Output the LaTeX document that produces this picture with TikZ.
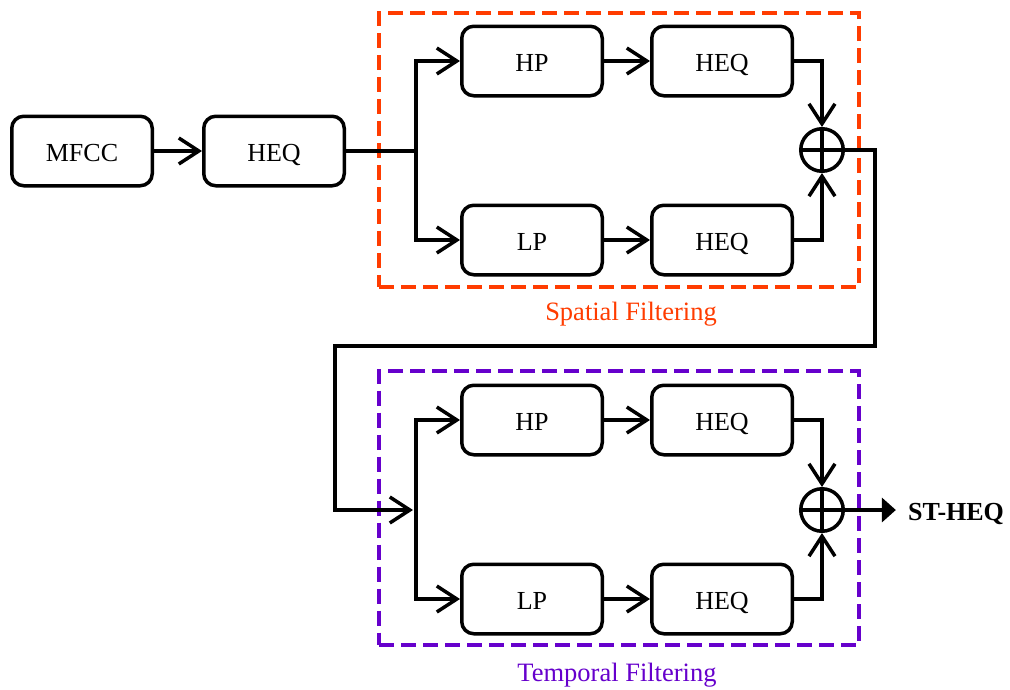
\documentclass[tikz,border=0pt]{standalone}
\usepackage{fontspec}
\setmainfont{Liberation Serif}
\usetikzlibrary{arrows.meta}
\definecolor{spred}{RGB}{255,60,0}
\definecolor{tppur}{RGB}{102,0,204}
\begin{document}
\begin{tikzpicture}[x=1pt,y=-1pt,
  blk/.style={draw,line width=3.5pt,rounded corners=12pt,minimum width=140.5pt,minimum height=69.5pt,inner sep=0pt,text height=21pt,text depth=0pt,font=\fontsize{26}{28}\selectfont},
  sumc/.style={draw,circle,line width=3.5pt,minimum size=42.5pt,inner sep=0pt},
  ln/.style={line width=3.5pt},
  arr/.style={line width=3.5pt,-{Straight Barb[length=20pt,width=26pt]}},
  farr/.style={line width=3.5pt,-{Triangle[length=14pt,width=24pt]}},
  grp/.style={line width=4pt,dash pattern=on 15pt off 7pt,minimum width=480pt,minimum height=274pt,inner sep=0pt},
  lbl/.style={font=\fontsize{26.5}{28}\selectfont}
]
\useasboundingbox (0,0) rectangle (1010,689);
% group frames
\node[grp,draw=spred] (sf) at (619,150) {};
\node[grp,draw=tppur] (tf) at (619,507.5) {};
\node[lbl,text=spred] (sfl) at (631,314) {Spatial Filtering};
\node[lbl,text=tppur] (tfl) at (617,675) {Temporal Filtering};
% blocks
\node[blk] (mfcc) at (82,151) {MFCC};
\node[blk] (heq0) at (274,151) {HEQ};
\node[blk] (shp) at (532,61) {HP};
\node[blk] (sheq1) at (722,61) {HEQ};
\node[blk] (slp) at (532,240) {LP};
\node[blk] (sheq2) at (722,240) {HEQ};
\node[sumc] (ssum) at (822,150) {};
\draw[ln] (ssum.north) -- (ssum.south) (ssum.west) -- (ssum.east);
\node[blk] (thp) at (532,420) {HP};
\node[blk] (theq1) at (722,420) {HEQ};
\node[blk] (tlp) at (532,599) {LP};
\node[blk] (theq2) at (722,599) {HEQ};
\node[sumc] (tsum) at (822,510) {};
\draw[ln] (tsum.north) -- (tsum.south) (tsum.west) -- (tsum.east);
\node[font=\fontsize{26}{28}\selectfont\bfseries,inner sep=12pt,text height=21pt,text depth=0pt] (out) at (956,510) {ST-HEQ};
% coordinates
\coordinate (sbr) at (416,151);
\coordinate (tbr) at (416,510);
\coordinate (r1) at (875,150);
\coordinate (r3) at (335,346);
% connectors spatial
\draw[arr] (mfcc) -- (heq0);
\draw[ln] (heq0.east) -- (sbr);
\draw[arr] (sbr) |- (shp.west);
\draw[arr] (sbr) |- (slp.west);
\draw[arr] (shp) -- (sheq1);
\draw[arr] (slp) -- (sheq2);
\draw[arr] (sheq1.east) -| (ssum.north);
\draw[arr] (sheq2.east) -| (ssum.south);
% return path
\draw[arr,shorten >=3pt] (ssum.east) -- (r1) |- (r3) |- (tbr);
% connectors temporal
\draw[arr] (tbr) |- (thp.west);
\draw[arr] (tbr) |- (tlp.west);
\draw[arr] (thp) -- (theq1);
\draw[arr] (tlp) -- (theq2);
\draw[arr] (theq1.east) -| (tsum.north);
\draw[arr] (theq2.east) -| (tsum.south);
\draw[farr] (tsum.east) -- (out.west);
\end{tikzpicture}
\end{document}
